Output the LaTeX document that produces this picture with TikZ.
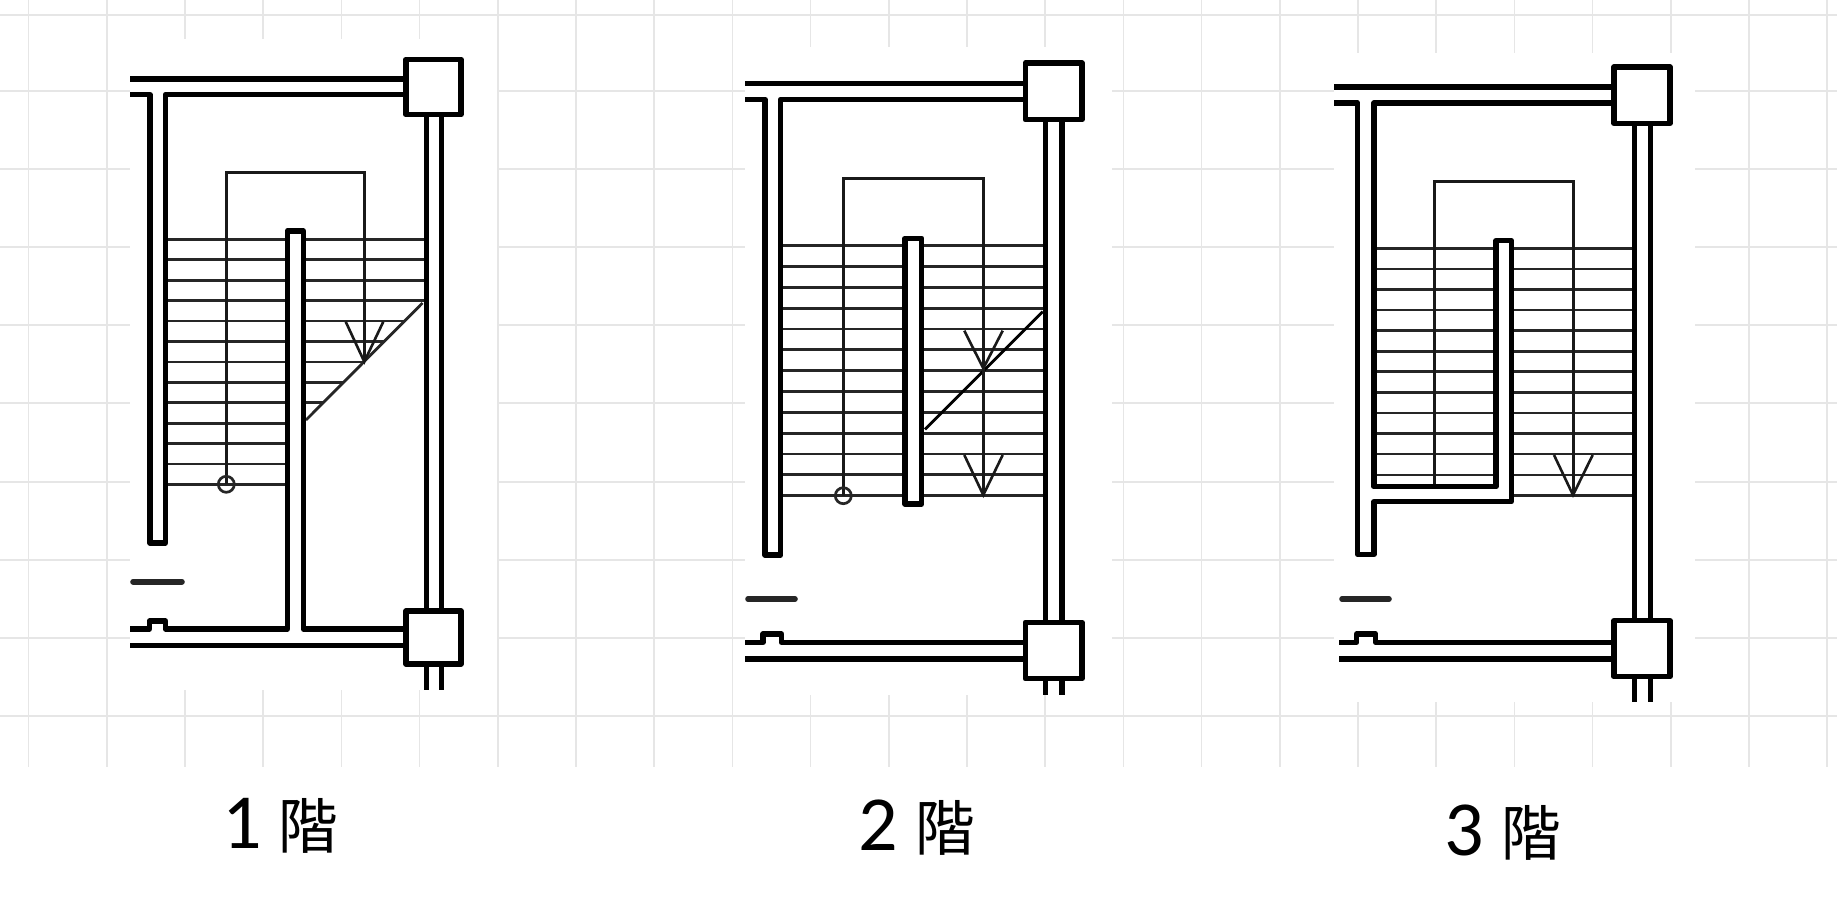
\documentclass[tikz,border=0pt]{standalone}
\usepackage{fontspec}
\newfontfamily\cjkfont{Noto Sans CJK TC}
\newfontfamily\digfont{Carlito}
\definecolor{gridc}{HTML}{E6E6E6}
\tikzset{
  x=1pt,y=-1pt,
  wall/.style={line width=5.5pt,line join=round,black},
  tread/.style={line width=2.7pt,black!85},
  thinl/.style={line width=3pt,line join=miter,black!90},
  arrowl/.style={line width=2.6pt,black!90},
  gridl/.style={line width=1.6pt,gridc},
  paper/.style={fill=white,draw=none},
  dash line/.style={line width=5.6pt,line cap=round,black!85},
  floorlabel/.style={anchor=base west,inner sep=0pt,outer sep=0pt,black,font=\fontsize{60}{62}\selectfont},
}
\newcommand{\floortext}[2]{{\digfont\fontsize{78}{78}\selectfont #1}\hspace{#2}{\cjkfont 階}}
\begin{document}
\begin{tikzpicture}
\useasboundingbox (0,0) rectangle (1837,897);
\fill[white] (0,0) rectangle (1837,897);
% grid
\foreach \k in {0,...,23} \draw[gridl] ({28.5+78.2*\k},0) -- ({28.5+78.2*\k},767);
\foreach \g in {15,91,169,247,325,403,482,560,638,716} \draw[gridl] (0,\g) -- (1837,\g);
% paper patches
\fill[paper] (130,39) rectangle (496.5,690);
\fill[paper] (745,46.5) rectangle (1112,695);
\fill[paper] (1334,53) rectangle (1695,702);
\fill[white] (0,767) rectangle (1837,897);

% ---------- floor 1 ----------
\foreach \t in {239.3,259.8,280.2,300.6,321,341.5,361.9,382.3,402.7,423.2,443.6,464,484.3}
  \draw[tread] (166,\t) -- (287,\t);
\foreach \t/\e in {239.3/424,259.8/424,280.2/424,300.6/424,321/404.5,341.5/384,361.9/364,382.3/344,402.7/324}
  \draw[tread] (303,\t) -- (\e,\t);
\draw[line width=2.8pt,black!85] (422.5,303) -- (306,420);
\draw[thinl] (226.3,484.3) -- (226.3,172.3) -- (364.3,172.3) -- (364.3,361.7);
\draw[arrowl] (345.7,321.7) -- (364.3,361.7) -- (383.3,321.7);
\draw[tread] (226.3,484.3) circle (8);
\draw[wall] (130,79) -- (406,79);
\draw[wall] (130,94.7) -- (150,94.7) -- (150,543) -- (165.3,543) -- (165.3,94.7) -- (406,94.7);
\draw[wall] (426.3,115) -- (426.3,611) (441.7,115) -- (441.7,611);
\draw[wall] (426.3,664) -- (426.3,690) (441.7,664) -- (441.7,690);
\draw[wall,fill=white] (406,59.3) rectangle (461,114.7);
\draw[wall,fill=white] (406,611) rectangle (461,664);
\draw[wall] (130,629) -- (149.5,629) -- (149.5,621) -- (165.5,621) -- (165.5,629) -- (287.3,629) -- (287.3,231) -- (303.3,231) -- (303.3,629) -- (406,629);
\draw[wall] (130,645.7) -- (406,645.7);
\draw[dash line] (133,581.7) -- (182,581.7);

% ---------- floor 2 ----------
\foreach \t in {245.7,266.5,287.3,308.2,329,349.8,370.7,391.5,412.3,433.2,454,474.8,495.7}
  \draw[tread] (781,\t) -- (1045,\t);
\draw[line width=2.8pt,black] (1042.7,311.7) -- (925,429.3);
\draw[thinl] (843.3,495.7) -- (843.3,178.7) -- (983.3,178.7) -- (983.3,495.7);
\draw[arrowl] (964.3,330.7) -- (983.3,368.3) -- (1002.7,330.7);
\draw[arrowl] (964.3,455) -- (983.3,495) -- (1002.7,455);
\draw[tread] (843.3,495.7) circle (8);
\draw[wall] (745,83.3) -- (1025.3,83.3);
\draw[wall] (745,99.3) -- (765,99.3) -- (765,555) -- (780.7,555) -- (780.7,99.3) -- (1025.3,99.3);
\draw[wall] (1045.7,120) -- (1045.7,622) (1062,120) -- (1062,622);
\draw[wall] (1045.7,678) -- (1045.7,695) (1062,678) -- (1062,695);
\draw[wall,fill=white] (1025.3,63) rectangle (1082,119.7);
\draw[wall,fill=white] (1025.3,622.3) rectangle (1082,678.7);
\draw[wall,fill=white] (905,238.3) rectangle (921.7,504);
\draw[wall] (745,642.3) -- (763,642.3) -- (763,634) -- (781.5,634) -- (781.5,642.3) -- (1025.3,642.3);
\draw[wall] (745,659) -- (1025.3,659);
\draw[dash line] (748,599) -- (795,599);

% ---------- floor 3 ----------
\foreach \t in {248.3,268.9,289.5,310,330.6,351.2,371.7,392.3,412.9,433.5,454,475}
  \draw[tread] (1375,\t) -- (1496,\t);
\foreach \t in {248.3,268.9,289.5,310,330.6,351.2,371.7,392.3,412.9,433.5,454,475,495.7}
  \draw[tread] (1511,\t) -- (1634,\t);
\draw[thinl] (1434.7,486.7) -- (1434.7,181.3) -- (1573,181.3) -- (1573,495.7);
\draw[arrowl] (1554,455) -- (1573,495) -- (1592.7,455);
\draw[wall] (1334,87) -- (1614,87);
\draw[wall] (1334,103) -- (1357.7,103) -- (1357.7,554.3) -- (1374,554.3) -- (1374,501.7) -- (1511.3,501.7) -- (1511.3,240.7) -- (1496,240.7) -- (1496,486.7) -- (1374,486.7) -- (1374,103) -- (1614,103);
\draw[wall] (1634.7,123) -- (1634.7,621) (1650.3,123) -- (1650.3,621);
\draw[wall] (1634.7,676) -- (1634.7,702) (1650.3,676) -- (1650.3,702);
\draw[wall,fill=white] (1614,67) rectangle (1670,123.3);
\draw[wall,fill=white] (1614,620.7) rectangle (1670,676.7);
\draw[wall] (1339,642.3) -- (1356.7,642.3) -- (1356.7,634) -- (1375.7,634) -- (1375.7,642.3) -- (1614,642.3);
\draw[wall] (1339,659) -- (1614,659);
\draw[dash line] (1342,599) -- (1389,599);

% ---------- labels ----------
\node[floorlabel] (f1) at (222,848) {\floortext{1}{17pt}};
\node[floorlabel] (f2) at (858.5,850) {\floortext{2}{17pt}};
\node[floorlabel] (f3) at (1444.5,855) {\floortext{3}{17pt}};
\end{tikzpicture}
\end{document}
